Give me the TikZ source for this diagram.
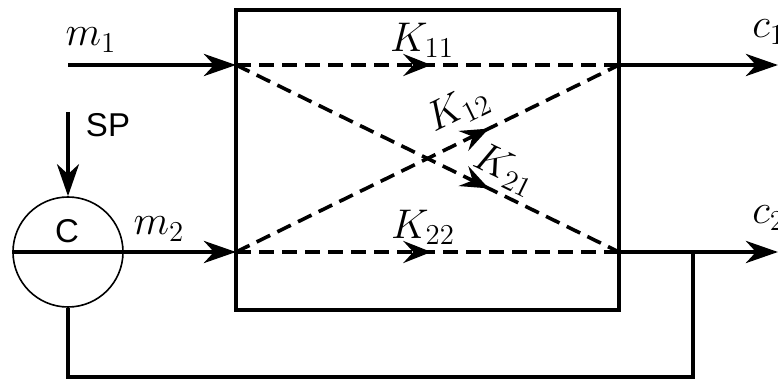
\documentclass[tikz,border=0pt]{standalone}
\usepackage{fontspec}
\setsansfont{Liberation Sans}
\usetikzlibrary{arrows.meta,decorations.markings}
\begin{document}
\begin{tikzpicture}[x=0.5pt,y=-0.5pt,
  flow/.style={line width=2.4pt},
  tipend/.style={-{Stealth[length=16pt,width=11pt,inset=5pt]}},
  dline/.style={line width=1.8pt,dash pattern=on 7.5pt off 4pt},
  midarrow/.style={postaction={decorate},decoration={markings,
     mark=at position #1 with {\arrow{Stealth[length=14pt,width=11pt,inset=5pt]}}}},
  lbl/.style={font=\fontsize{19.5}{22}\selectfont,inner sep=0pt},
  mlbl/.style={font=\fontsize{22}{24}\selectfont,inner sep=0pt},
  slbl/.style={font=\sffamily\fontsize{16.5}{19}\selectfont,inner sep=0pt}]
\useasboundingbox (0,0) rectangle (778,379);
% process box
\node[draw,line width=2.4pt,minimum width=191.5pt,minimum height=150pt,inner sep=0pt] (box) at (427.5,160) {};
\coordinate (i1) at (236,65);
\coordinate (i2) at (236,252);
\coordinate (o1) at (619,65);
\coordinate (o2) at (619,252);
% controller
\node[circle,draw,line width=0.8pt,minimum size=55pt,inner sep=0pt] (ctrl) at (68,252) {};
\node[slbl] (clbl) at (67,231) {C};
% inputs
\coordinate (m1s) at (68,65);
\draw[flow,tipend] (m1s) -- (i1);
\draw[flow,tipend] (ctrl.west) -- (i2);
\coordinate (sps) at (68,112);
\draw[line width=2pt,tipend] (sps) -- (ctrl.north);
% outputs
\coordinate (c1e) at (778,65);
\coordinate (c2e) at (778,252);
\draw[flow,tipend] (o1) -- (c1e);
\draw[flow,tipend] (o2) -- (c2e);
% feedback
\coordinate (fb) at (693,252);
\coordinate (fbb) at (693,377);
\draw[flow] (ctrl.south) |- (fbb) -- (fb);
% internal paths
\draw[dline,midarrow=0.51] (i1) -- (o1);
\draw[dline,midarrow=0.51] (i2) -- (o2);
\draw[dline,midarrow=0.66] (i2) -- (o1);
\draw[dline,midarrow=0.66] (i1) -- (o2);
% labels
\node[mlbl] (lm1) at (91,40) {$m_1$};
\node[mlbl] (lm2) at (159,229) {$m_2$};
\node[slbl] (lsp) at (108,125) {SP};
\node[lbl] (k11) at (422,40) {$K_{11}$};
\node[lbl] (k22) at (423,227) {$K_{22}$};
\node[lbl,rotate=26] (k12) at (458,109) {$K_{12}$};
\node[lbl,rotate=-26] (k21) at (505,170) {$K_{21}$};
\node[mlbl,anchor=west] (lc1) at (752,32) {$c_1$};
\node[mlbl,anchor=west] (lc2) at (752,218) {$c_2$};
\end{tikzpicture}
\end{document}
